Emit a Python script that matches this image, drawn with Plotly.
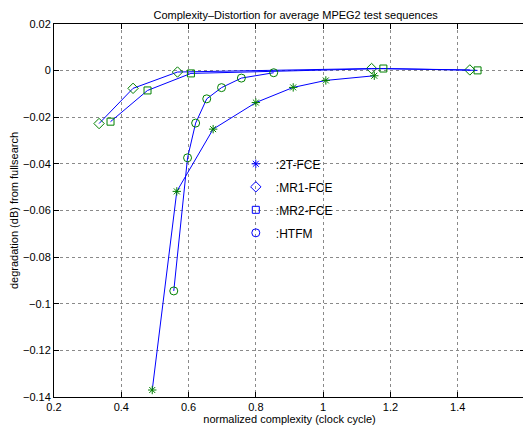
import plotly.graph_objects as go

# values
x_2t = [0.492, 0.565, 0.673, 0.800, 0.911, 1.008, 1.152]
y_2t = [-0.137, -0.0518, -0.0251, -0.0137, -0.0072, -0.0042, -0.0022]

x_mr1 = [0.334, 0.435, 0.567, 1.144, 1.436]
y_mr1 = [-0.0227, -0.0076, -0.0006, 0.0009, 0.0003]

x_mr2 = [0.368, 0.478, 0.607, 1.179, 1.459]
y_mr2 = [-0.0219, -0.0085, -0.0012, 0.0009, 0.0001]

x_htfm = [0.556, 0.597, 0.621, 0.654, 0.698, 0.757, 0.853]
y_htfm = [-0.0945, -0.0374, -0.0225, -0.0121, -0.0073, -0.0032, -0.0009]

series = [
    (":2T-FCE", x_2t, y_2t, "asterisk-open", 7),
    (":MR1-FCE", x_mr1, y_mr1, "diamond-open", 8),
    (":MR2-FCE", x_mr2, y_mr2, "square-open", 7),
    (":HTFM", x_htfm, y_htfm, "circle-open", 8),
]

BLUE = "#0000ff"
GREEN = "#008000"

fig = go.Figure()
for name, xs, ys, sym, sz in series:
    fig.add_trace(go.Scatter(
        x=xs, y=ys, mode="lines+markers", showlegend=False,
        line=dict(color=BLUE, width=1),
        marker=dict(symbol=sym, size=sz, color=GREEN, line=dict(color=GREEN, width=1)),
    ))
# legend keys: blue markers only
for name, xs, ys, sym, sz in series:
    fig.add_trace(go.Scatter(
        x=[None], y=[None], mode="markers", name=name, legendgroup=name,
        marker=dict(symbol=sym, size=sz, color=BLUE, line=dict(color=BLUE, width=1)),
    ))

axis_common = dict(
    showline=True, linecolor="black", linewidth=1, mirror="ticks",
    ticks="inside", ticklen=5, tickcolor="black",
    showgrid=True, gridcolor="#8a8a8a", griddash="dot", gridwidth=1,
    zeroline=False, tickfont=dict(size=11, color="black"), automargin=False,
)

fig.update_xaxes(range=[0.2, 1.6], dtick=0.2, tick0=0.2,
                 title=dict(text="normalized complexity (clock cycle)", font=dict(size=11), standoff=0),
                 **axis_common)
fig.update_yaxes(range=[-0.14, 0.02], dtick=0.02, tick0=0,
                 title=dict(text="degradation (dB) from fullsearch", font=dict(size=11), standoff=4),
                 **axis_common)

# the page body adds an 8px offset, so the figure is 8px smaller than the window
fig.update_layout(
    width=523, height=417,
    margin=dict(l=46, r=6, t=16, b=28),
    paper_bgcolor="white", plot_bgcolor="white",
    font=dict(family="Liberation Sans, Arial, sans-serif", color="black", size=11),
    title=dict(text="Complexity\u2013Distortion for average MPEG2 test sequences",
               x=0.55, xanchor="center", y=0.993, yanchor="top", font=dict(size=11)),
    legend=dict(x=0.386, y=0.664, xanchor="left", yanchor="top",
                bgcolor="rgba(0,0,0,0)", borderwidth=0, tracegroupgap=4,
                itemwidth=30, font=dict(size=12)),
)

fig.write_html("out.html")
